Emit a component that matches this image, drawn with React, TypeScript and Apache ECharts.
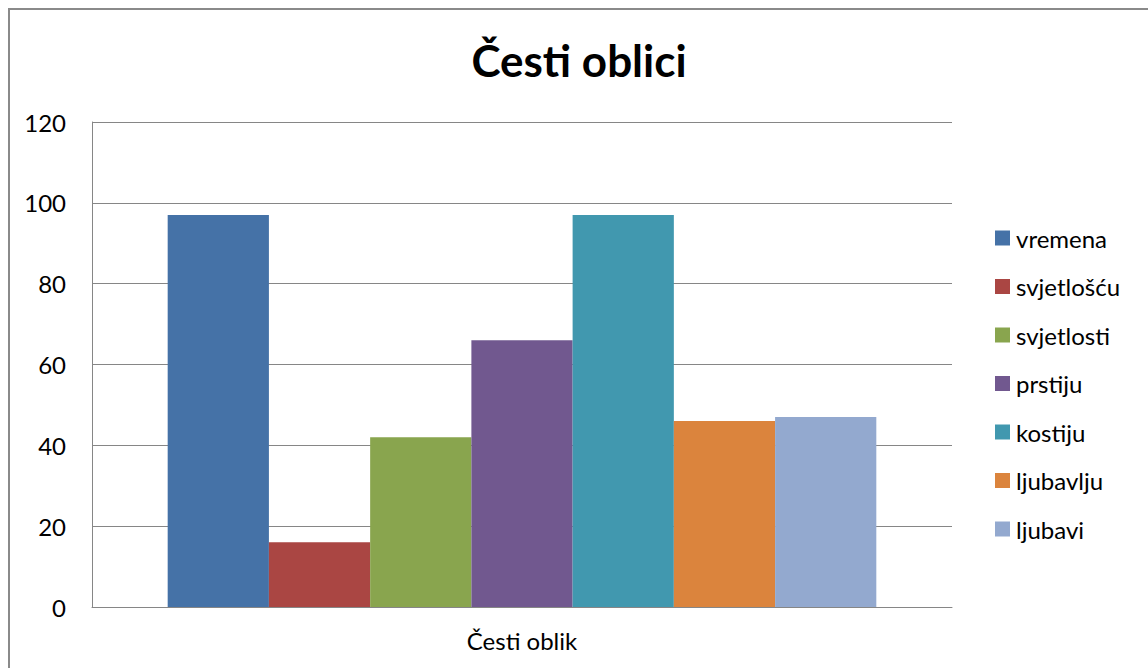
import React, { useEffect, useRef } from "react";
import * as echarts from "echarts";

const categories = ["Česti oblik"];
const seriesNames = ["vremena", "svjetlošću", "svjetlosti", "prstiju", "kostiju", "ljubavlju", "ljubavi"];
const seriesValues = [97, 16, 42, 66, 97, 46, 47];
const colors = ["#4572A7", "#AA4643", "#89A54E", "#71588F", "#4198AF", "#DB843D", "#93A9CF"];
const titleText = "Česti oblici";

const FONT = "Lato, 'Liberation Sans', sans-serif";

export default function App() {
  const ref = useRef<HTMLDivElement>(null);
  useEffect(() => {
    if (!ref.current) return;
    const chart = echarts.init(ref.current, undefined, { renderer: "svg" });
    chart.setOption({
      animation: false,
      backgroundColor: "#ffffff",
      title: {
        text: titleText,
        left: 574,
        top: 33,
        textAlign: "center",
        textStyle: { fontFamily: FONT, fontSize: 44, fontWeight: "bold", color: "#000" },
      },
      graphic: [
        {
          type: "rect",
          shape: { x: 9, y: 9, width: 1200, height: 700 },
          style: { fill: "none", stroke: "#8a8a8a", lineWidth: 2 },
          silent: true,
        },
      ],
      legend: {
        orient: "vertical",
        left: 995,
        top: 226,
        padding: 0,
        itemWidth: 15,
        itemHeight: 15,
        itemGap: 24.5,
        icon: "rect",
        textStyle: { fontFamily: FONT, fontSize: 24, color: "#000", lineHeight: 24, padding: [0, 0, 0, 1] },
        data: seriesNames,
      },
      grid: { left: 92, top: 122, right: 196, bottom: 61, containLabel: false },
      xAxis: {
        type: "category",
        data: categories,
        axisLine: { show: true, lineStyle: { color: "#868686", width: 1 } },
        axisTick: { show: false },
        axisLabel: { fontFamily: FONT, fontSize: 24, color: "#000", margin: 21 },
      },
      yAxis: {
        type: "value",
        min: 0,
        max: 120,
        interval: 20,
        axisLine: { show: true, lineStyle: { color: "#868686", width: 1 } },
        axisTick: { show: false },
        splitLine: { show: true, lineStyle: { color: "#868686", width: 1 } },
        axisLabel: { fontFamily: FONT, fontSize: 24, color: "#000", margin: 26 },
      },
      series: seriesNames.map((name, i) => ({
        name,
        type: "bar",
        data: [seriesValues[i]],
        barGap: "0%",
        barCategoryGap: "17.6%",
        itemStyle: { color: colors[i] },
      })),
    });
    return () => chart.dispose();
  }, []);
  return (
    <div
      ref={ref}
      style={{ position: "fixed", left: 0, top: 0, width: 1148, height: 668 }}
    />
  );
}
